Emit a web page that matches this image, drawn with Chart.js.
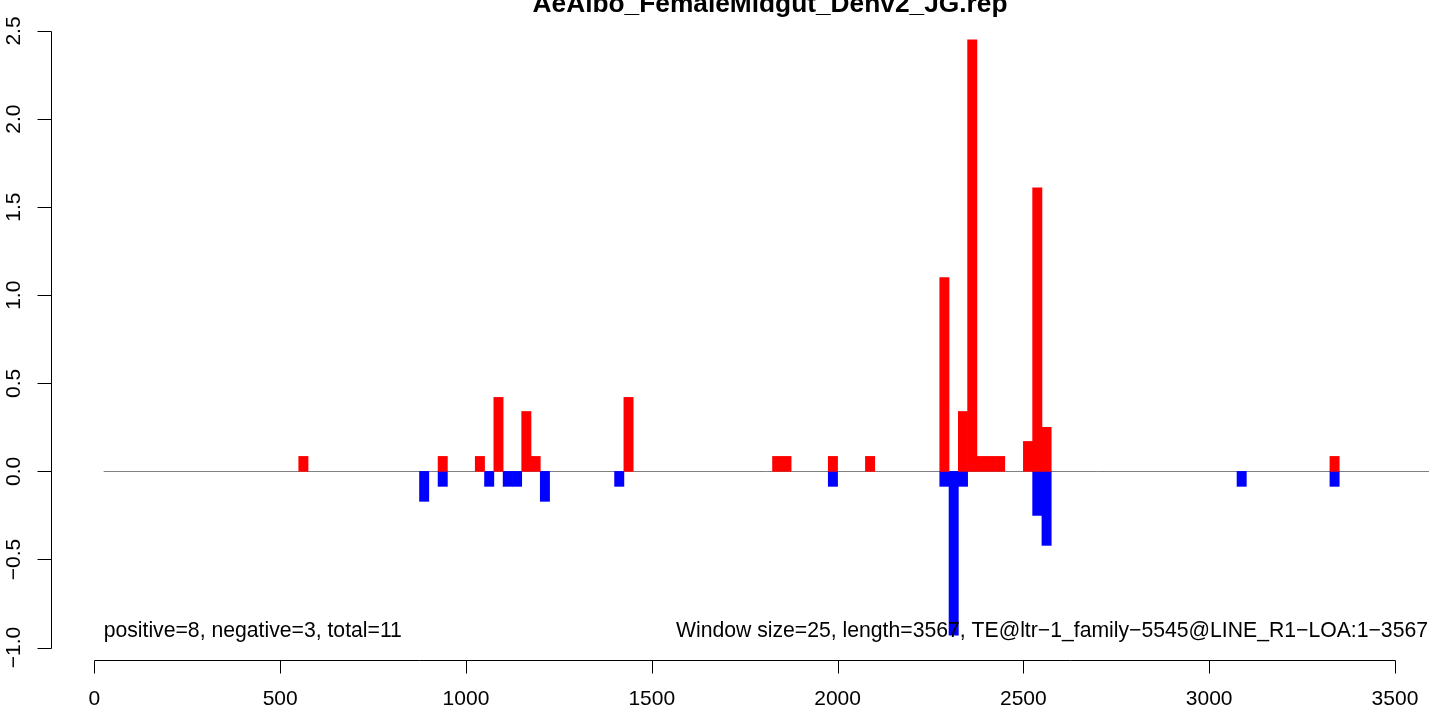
<!DOCTYPE html>
<html lang="en">
<head>
    <meta charset="UTF-8">
    <title>AeAlbo_FemaleMidgut_Denv2_JG.rep</title>
    <script src="https://cdn.jsdelivr.net/npm/chart.js"></script>
    <style>
        body {
            margin: 0;
            background-color: #ffffff;
        }
        .chart-box {
            width: 1429px;
            height: 706px;
        }
    </style>
</head>
<body>

    <div class="chart-box">
        <canvas id="myChart"></canvas>
    </div>

    <script>
        // Window start positions and values
        const posBins = [550, 925, 1025, 1075, 1150, 1175, 1425, 1825, 1850, 1975, 2075,
                         2275, 2325, 2350, 2375, 2400, 2425, 2500, 2525, 2550, 3325];
        const posVals = [0.085, 0.085, 0.085, 0.42, 0.34, 0.085, 0.42, 0.085, 0.085, 0.085, 0.085,
                         1.10, 0.34, 2.45, 0.085, 0.085, 0.085, 0.17, 1.61, 0.25, 0.085];
        const negBins = [875, 925, 1050, 1100, 1125, 1200, 1400, 1975, 2275, 2300, 2325,
                         2525, 2550, 3075, 3325];
        const negVals = [-0.17, -0.085, -0.085, -0.085, -0.085, -0.17, -0.085, -0.085, -0.085, -0.93, -0.085,
                         -0.25, -0.42, -0.085, -0.085];

        const windowSize = 25;
        const seqLength = 3567;

        const xTicks = [0, 500, 1000, 1500, 2000, 2500, 3000, 3500];
        const xTickLabels = ['0', '500', '1000', '1500', '2000', '2500', '3000', '3500'];
        const yTicks = [-1.0, -0.5, 0.0, 0.5, 1.0, 1.5, 2.0, 2.5];
        const yTickLabels = ['\u22121.0', '\u22120.5', '0.0', '0.5', '1.0', '1.5', '2.0', '2.5'];

        const titleText = 'AeAlbo_FemaleMidgut_Denv2_JG.rep';
        const leftNote = 'positive=8, negative=3, total=11';
        const rightNote = 'Window size=25, length=3567, TE@ltr\u22121_family\u22125545@LINE_R1\u2212LOA:1\u22123567';

        const FONT = '"Liberation Sans", Arial, sans-serif';

        function toPoints(bins, vals) {
            return bins.map((b, i) => ({ x: b + windowSize / 2, y: vals[i] }));
        }

        // zero line, drawn under the bars
        const zeroLine = {
            id: 'zeroLine',
            beforeDatasetsDraw(chart) {
                const { ctx, chartArea, scales: { x, y } } = chart;
                const yy = Math.round(y.getPixelForValue(0)) + 0.5;
                ctx.save();
                ctx.strokeStyle = '#808080';
                ctx.lineWidth = 1;
                ctx.beginPath();
                ctx.moveTo(x.getPixelForValue(windowSize), yy);
                ctx.lineTo(chartArea.right, yy);
                ctx.stroke();
                ctx.restore();
            }
        };

        // R-style axes, title and notes
        const rAxes = {
            id: 'rAxes',
            afterDraw(chart) {
                const { ctx, chartArea, scales: { x, y } } = chart;
                ctx.save();
                ctx.strokeStyle = '#000';
                ctx.fillStyle = '#000';
                ctx.lineWidth = 1;

                // y axis
                const ax = chartArea.left + 0.5;
                ctx.beginPath();
                ctx.moveTo(ax, Math.round(y.getPixelForValue(yTicks[0])) + 0.5);
                ctx.lineTo(ax, Math.round(y.getPixelForValue(yTicks[yTicks.length - 1])) + 0.5);
                yTicks.forEach(v => {
                    const py = Math.round(y.getPixelForValue(v)) + 0.5;
                    ctx.moveTo(ax, py);
                    ctx.lineTo(ax - 14, py);
                });
                ctx.stroke();
                ctx.font = '21px ' + FONT;
                ctx.textAlign = 'center';
                ctx.textBaseline = 'alphabetic';
                yTicks.forEach((v, i) => {
                    ctx.save();
                    ctx.translate(20, y.getPixelForValue(v));
                    ctx.rotate(-Math.PI / 2);
                    ctx.fillText(yTickLabels[i], 0, 0);
                    ctx.restore();
                });

                // x axis
                const ay = chartArea.bottom + 1.5;
                ctx.beginPath();
                ctx.moveTo(Math.round(x.getPixelForValue(xTicks[0])) + 0.5, ay);
                ctx.lineTo(Math.round(x.getPixelForValue(xTicks[xTicks.length - 1])) + 0.5, ay);
                xTicks.forEach(v => {
                    const px = Math.round(x.getPixelForValue(v)) + 0.5;
                    ctx.moveTo(px, ay);
                    ctx.lineTo(px, ay + 13);
                });
                ctx.stroke();
                xTicks.forEach((v, i) => {
                    ctx.fillText(xTickLabels[i], x.getPixelForValue(v), 705);
                });

                // notes inside the plot
                const noteY = y.getPixelForValue(-0.94);
                ctx.font = '21.2px ' + FONT;
                ctx.textAlign = 'left';
                ctx.fillText(leftNote, x.getPixelForValue(windowSize), noteY);
                ctx.textAlign = 'right';
                ctx.fillText(rightNote, chartArea.right - 1, noteY);

                // title (top is clipped, as in the original)
                ctx.font = 'bold 26.3px ' + FONT;
                ctx.textAlign = 'center';
                ctx.fillText(titleText, 770, 12);
                ctx.restore();
            }
        };

        const ctx = document.getElementById('myChart').getContext('2d');
        const myChart = new Chart(ctx, {
            type: 'bar',
            data: {
                datasets: [{
                    label: 'positive',
                    data: toPoints(posBins, posVals),
                    backgroundColor: '#ff0000',
                    borderWidth: 0,
                    barThickness: 9.3,
                    grouped: false
                }, {
                    label: 'negative',
                    data: toPoints(negBins, negVals),
                    backgroundColor: '#0000ff',
                    borderWidth: 0,
                    barThickness: 9.3,
                    grouped: false
                }]
            },
            options: {
                responsive: true,
                maintainAspectRatio: false,
                animation: false,
                layout: {
                    padding: { left: 51, right: 0, top: 16, bottom: 47 }
                },
                plugins: {
                    legend: { display: false },
                    tooltip: { enabled: false }
                },
                scales: {
                    x: {
                        type: 'linear',
                        min: -116.7,
                        max: 3591.6,
                        offset: false,
                        display: false
                    },
                    y: {
                        type: 'linear',
                        min: -1.065,
                        max: 2.585,
                        display: false
                    }
                }
            },
            plugins: [zeroLine, rAxes]
        });
    </script>

</body>
</html>
